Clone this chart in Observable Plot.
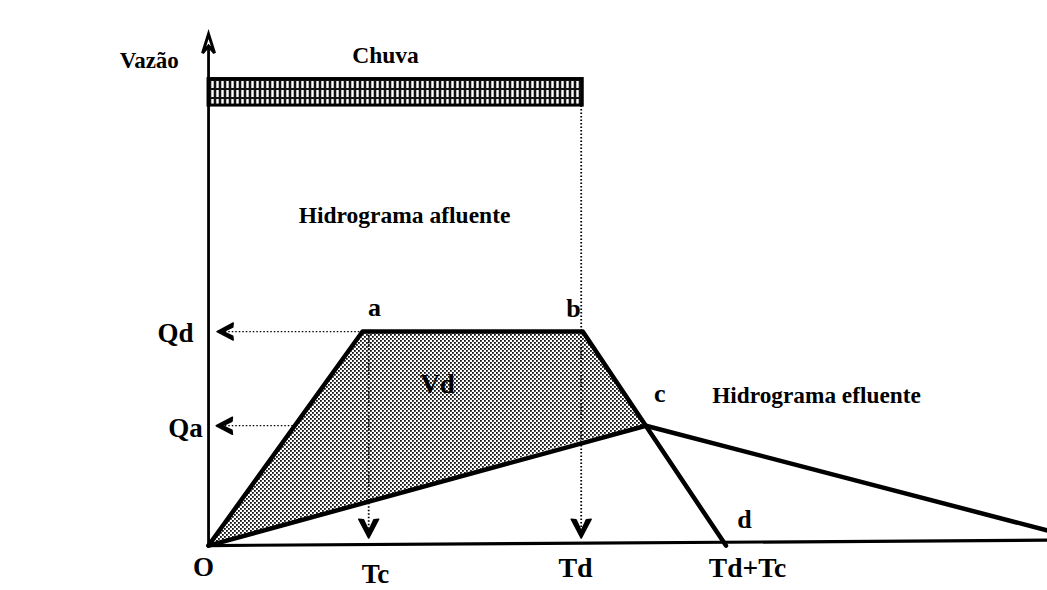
<!DOCTYPE html>
<html>
<head>
<meta charset="utf-8">
<script src="https://cdn.jsdelivr.net/npm/d3@7"></script>
<script src="https://cdn.jsdelivr.net/npm/@observablehq/plot@0.6"></script>
<style>
  html, body { margin: 0; padding: 0; background: #fff; }
  #chart svg { display: block; }
</style>
</head>
<body>
<div id="chart"></div>
<script>
// ---- Data (time in arbitrary units, discharge relative to Qd) ----
const inflowT = [0, 1.0, 2.43, 3.36];        // O, a, b, d
const inflowQ = [0, 1.0, 1.0, 0];
const outflowT = [0, 2.84, 5.45];            // O, c, end
const outflowQ = [0, 0.56, 0.07];
const shadeT = [0, 1.0, 2.43, 2.84];         // Vd region
const shadeTop = [0, 1.0, 1.0, 0.56];
const shadeBottom = [0, 0.2, 0.49, 0.56];
const rainStart = 0, rainEnd = 2.43, rainLow = 2.056, rainHigh = 2.18;
const axisTop = 2.39, axisRight = 5.45;
const Tc = 1.04, Td = 2.42, Qd = 1.0, Qa = 0.56;

const labels = [
  {text: "Vazão", x: -0.385, y: 2.266, size: 23},
  {text: "Chuva", x: 1.149, y: 2.29, size: 23.5},
  {text: "Hidrograma afluente", x: 1.273, y: 1.542, size: 23.5},
  {text: "a", x: 1.078, y: 1.112, size: 26},
  {text: "b", x: 2.37, y: 1.107, size: 26},
  {text: "Qd", x: -0.214, y: 0.99, size: 27},
  {text: "Vd", x: 1.487, y: 0.752, size: 27},
  {text: "c", x: 2.93, y: 0.71, size: 26},
  {text: "Hidrograma efluente", x: 3.948, y: 0.701, size: 23.3},
  {text: "Qa", x: -0.149, y: 0.547, size: 27},
  {text: "d", x: 3.48, y: 0.121, size: 26},
  {text: "O", x: -0.032, y: -0.103, size: 27},
  {text: "Tc", x: 1.084, y: -0.136, size: 27},
  {text: "Td", x: 2.383, y: -0.107, size: 28},
  {text: "Td+Tc", x: 3.5, y: -0.107, size: 27.5}
];

// ---- Derived tables ----
const inflow = inflowT.map((t, i) => ({t, q: inflowQ[i]}));
const outflow = outflowT.map((t, i) => ({t, q: outflowQ[i]}));
const shade = shadeT.map((t, i) => ({t, top: shadeTop[i], bottom: shadeBottom[i]}));
const dottedH = [
  {x1: 0.06, x2: 1.0, y: Qd},
  {x1: 0.06, x2: 0.55, y: Qa}
];
const dottedV = [
  {x: Tc, y1: 0.985, y2: 0.04},
  {x: Td, y1: rainLow, y2: 0.04}
];
const headsLeft = [{x: 0.055, y: Qd}, {x: 0.05, y: Qa}];
const headsDown = [{x: Tc, y: 0.035}, {x: Td, y: 0.035}];

// filled barbed arrowhead: tip at origin, pointing left
const barb = {
  draw(ctx, size) {
    const r = Math.sqrt(size / Math.PI);
    ctx.moveTo(0, 0);
    ctx.lineTo(1.8 * r, -0.95 * r);
    ctx.lineTo(1.75 * r, -0.5 * r);
    ctx.lineTo(0.7 * r, 0);
    ctx.lineTo(1.75 * r, 0.5 * r);
    ctx.lineTo(1.8 * r, 0.95 * r);
    ctx.closePath();
  }
};
const openHead = {
  draw(ctx, size) {
    const r = Math.sqrt(size / Math.PI);
    ctx.moveTo(0, 0);
    ctx.lineTo(1.9 * r, -0.6 * r);
    ctx.lineTo(1.2 * r, 0);
    ctx.lineTo(1.9 * r, 0.6 * r);
    ctx.closePath();
  }
};

const font = "'Liberation Serif', 'DejaVu Serif', serif";

const chart = Plot.plot({
  width: 1047,
  height: 590,
  margin: 0,
  style: {background: "#fff", fontFamily: font},
  x: {domain: [-1.351, 5.448], axis: null},
  y: {domain: [-0.21, 2.547], axis: null},
  marks: [
    // shaded Vd volume
    Plot.areaY(shade, {x: "t", y1: "bottom", y2: "top", fill: "url(#stipple)"}),
    // rain block
    Plot.rect([{x1: rainStart, x2: rainEnd, y1: rainLow, y2: rainHigh}],
      {x1: "x1", x2: "x2", y1: "y1", y2: "y2", fill: "url(#rain)", stroke: "#000", strokeWidth: 3}),
    // dotted guides
    Plot.link(dottedH, {x1: "x1", x2: "x2", y1: "y", y2: "y", stroke: "#000", strokeWidth: 1.3, strokeDasharray: "1.5,2"}),
    Plot.link(dottedV, {x1: "x", x2: "x", y1: "y1", y2: "y2", stroke: "#000", strokeWidth: 1.8, strokeDasharray: "1.5,2"}),
    // axes
    Plot.link([{x1: 0, y1: 0, x2: 0, y2: axisTop - 0.04}], {x1: "x1", y1: "y1", x2: "x2", y2: "y2", stroke: "#000", strokeWidth: 2.8}),
    Plot.link([{x1: 0, y1: 0, x2: axisRight, y2: 0.025}], {x1: "x1", y1: "y1", x2: "x2", y2: "y2", stroke: "#000", strokeWidth: 3.2}),
    // hydrographs
    Plot.line(outflow, {x: "t", y: "q", stroke: "#000", strokeWidth: 4.5, strokeLinejoin: "round"}),
    Plot.line(inflow, {x: "t", y: "q", stroke: "#000", strokeWidth: 4.5, strokeLinejoin: "round"}),
    // arrowheads
    Plot.dot(headsLeft, {x: "x", y: "y", symbol: barb, r: 9, fill: "#000", stroke: "#000", strokeWidth: 1.5, strokeLinejoin: "round"}),
    Plot.dot(headsDown, {x: "x", y: "y", symbol: barb, r: 10.5, rotate: -90, fill: "#000", stroke: "#000", strokeWidth: 1.5, strokeLinejoin: "round"}),
    Plot.dot([{x: 0, y: axisTop}], {x: "x", y: "y", symbol: openHead, r: 10, rotate: 90, fill: "#fff", stroke: "#000", strokeWidth: 3}),
    // labels
    Plot.text(labels, {x: "x", y: "y", text: "text", fontSize: "size", fontWeight: "bold", fill: "#000", fontFamily: font})
  ]
});

// patterns for the stipple and the rain hatching
const svg = d3.select(chart);
const defs = svg.insert("defs", ":first-child");
const st = defs.append("pattern").attr("id", "stipple").attr("patternUnits", "userSpaceOnUse")
  .attr("width", 4).attr("height", 4);
st.append("rect").attr("width", 4).attr("height", 4).attr("fill", "#fff");
st.append("rect").attr("x", 0).attr("y", 0).attr("width", 1.8).attr("height", 1.8).attr("fill", "#111");
st.append("rect").attr("x", 2).attr("y", 2).attr("width", 1.8).attr("height", 1.8).attr("fill", "#111");
const rn = defs.append("pattern").attr("id", "rain").attr("patternUnits", "userSpaceOnUse")
  .attr("width", 5).attr("height", 9);
rn.append("rect").attr("width", 5).attr("height", 9).attr("fill", "#111");
rn.append("rect").attr("x", 1.3).attr("y", 0).attr("width", 2.4).attr("height", 7).attr("fill", "#fff");

document.getElementById("chart").append(chart);
</script>
</body>
</html>
